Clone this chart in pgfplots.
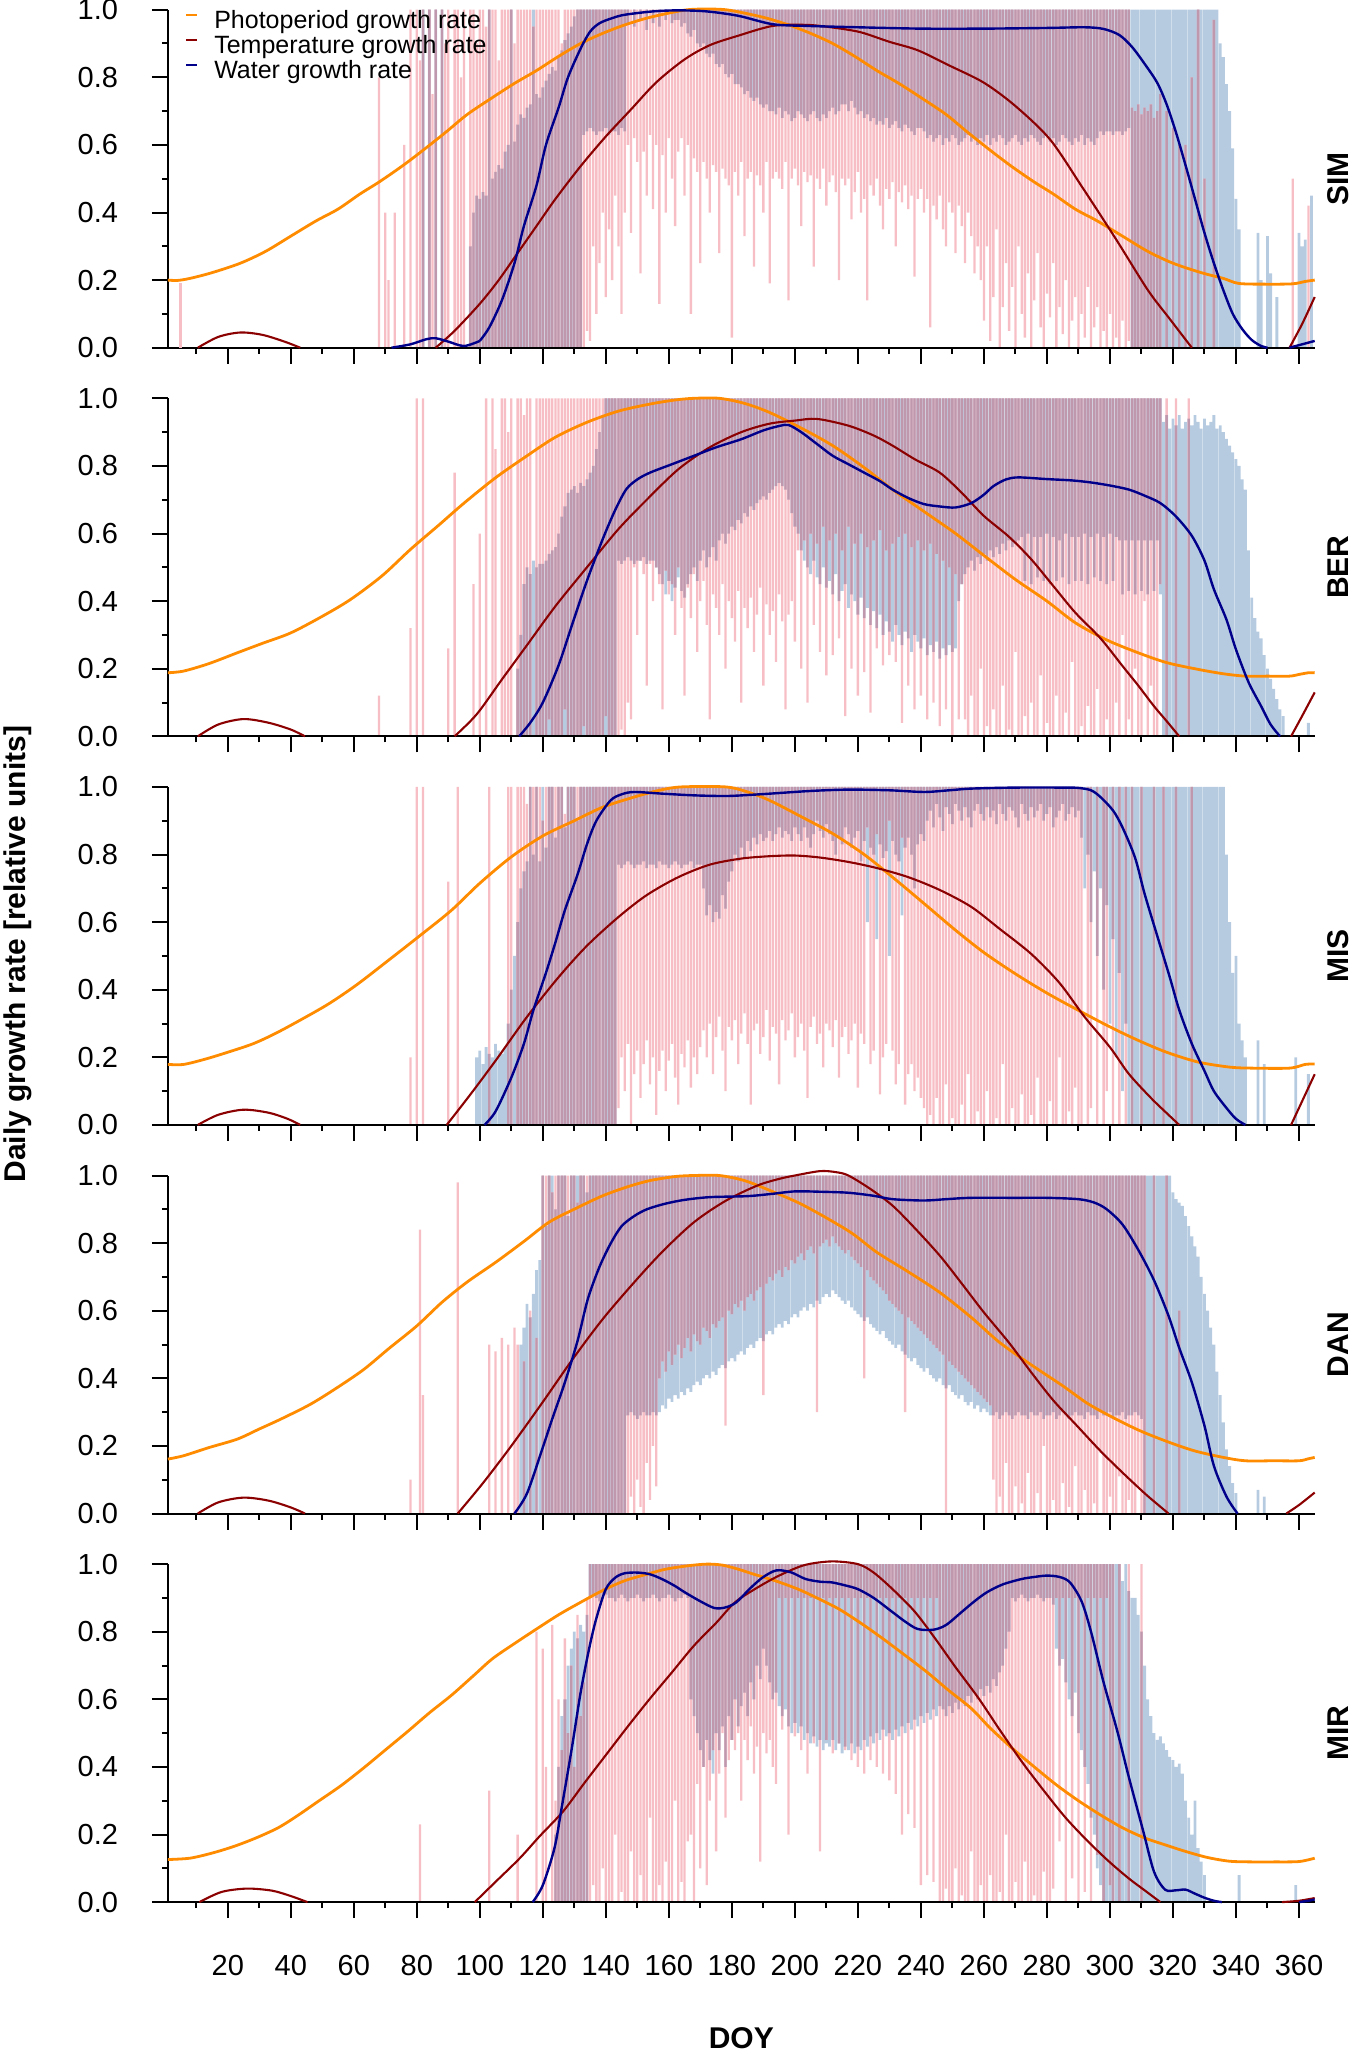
\documentclass[border=0pt]{standalone}
\usepackage{pgfplots}
\pgfplotsset{compat=1.18}
\usepackage{pgfplotstable}
\usepackage{fontspec}
\setmainfont{Liberation Sans}
\definecolor{pk}{RGB}{247,191,197}
\definecolor{lb}{RGB}{183,203,224}
\definecolor{mv}{RGB}{192,152,174}
\definecolor{cor}{RGB}{255,140,0}
\definecolor{cred}{RGB}{139,0,0}
\definecolor{cblu}{RGB}{0,0,139}

% daily series, days 60..365; p = temperature (pink), b = water (blue)
% v>=0 : stroke from v/100 up to 1 ; v<0 : stroke from 0 up to |v|/100 ; 100 : none
\pgfplotstableread[row sep=\\]{p b\\
100 100\\100 100\\100 100\\100 100\\100 100\\100 100\\100 100\\100 100\\-80 100\\100 100\\
-40 100\\-20 100\\100 100\\-40 100\\100 100\\100 100\\-60 100\\100 100\\0 100\\100 100\\
0 100\\-85 100\\0 0\\100 100\\0 0\\-75 100\\0 0\\100 100\\0 0\\-90 100\\
0 100\\100 100\\0 100\\0 100\\-80 100\\0 100\\100 100\\0 -30\\0 -40\\-90 -45\\
0 -44\\0 -46\\-95 -45\\0 0\\0 -50\\0 -52\\-85 -54\\0 -53\\0 -58\\0 -60\\
0 0\\-90 -61\\0 -66\\0 -69\\0 -68\\0 -71\\0 -72\\-95 0\\0 -75\\0 -74\\
0 -77\\0 -79\\0 -81\\0 -83\\0 -82\\0 -86\\-90 -88\\0 -91\\0 -93\\0 -95\\
0 -98\\0 0\\0 0\\0 63\\5 64\\2 65\\30 64\\10 63\\25 64\\40 64\\
15 65\\35 63\\20 64\\45 64\\30 63\\10 65\\40 64\\60 96\\34 100\\62 95\\
55 100\\22 97\\58 100\\45 94\\63 100\\41 96\\60 100\\13 95\\57 100\\40 97\\
62 100\\50 96\\36 97\\58 97\\62 95\\45 96\\60 93\\10 92\\56 94\\52 90\\
25 89\\55 90\\50 87\\40 86\\54 87\\52 84\\28 83\\53 84\\50 81\\48 80\\
3 81\\52 78\\45 78\\55 77\\33 75\\50 76\\52 74\\24 73\\51 74\\48 72\\
40 71\\55 72\\19 70\\50 70\\52 69\\50 71\\47 68\\55 70\\14 69\\50 67\\
53 68\\48 70\\36 69\\52 68\\49 67\\51 69\\24 70\\50 68\\47 67\\53 69\\
42 68\\49 70\\51 71\\46 69\\20 70\\50 72\\48 72\\50 70\\38 73\\46 71\\
52 69\\40 70\\44 68\\14 69\\48 67\\45 68\\50 66\\42 67\\35 66\\47 68\\
44 65\\49 66\\30 67\\46 65\\43 64\\48 66\\41 65\\45 64\\21 63\\44 65\\
47 65\\40 64\\44 62\\6 63\\42 61\\38 62\\45 63\\35 60\\30 62\\43 61\\
40 63\\28 62\\42 60\\36 61\\25 62\\40 63\\33 61\\22 62\\30 60\\20 62\\
8 61\\30 63\\2 60\\15 62\\35 61\\0 63\\12 62\\25 60\\5 61\\18 62\\
0 63\\30 61\\10 60\\3 62\\22 61\\0 63\\14 62\\28 61\\6 60\\0 62\\
16 63\\9 61\\25 62\\0 60\\12 61\\4 63\\20 62\\0 61\\8 60\\15 62\\
0 61\\10 63\\3 60\\18 62\\0 61\\6 60\\12 62\\0 64\\5 63\\0 64\\
10 64\\0 63\\3 64\\0 64\\8 63\\0 64\\2 65\\-71 0\\-70 0\\-72 0\\
-69 0\\-71 0\\-70 0\\-72 0\\-68 0\\-70 0\\-75 0\\100 0\\-70 0\\100 0\\
-65 0\\100 0\\-60 0\\100 0\\-60 0\\100 0\\-80 0\\100 0\\0 0\\100 0\\
-50 0\\100 0\\100 0\\-97 0\\100 0\\100 -90\\100 -86\\100 -78\\100 -70\\100 -59\\
100 -44\\100 -35\\100 100\\100 100\\100 100\\100 100\\100 100\\100 -34\\100 -20\\100 100\\
100 -33\\100 -22\\100 100\\100 -15\\100 100\\100 100\\100 100\\100 100\\-50 100\\100 100\\
100 -34\\100 -30\\100 -32\\-42 100\\100 -45\\100 100\\
}\tSIM

\pgfplotstableread[row sep=\\]{p b\\
100 100\\100 100\\100 100\\100 100\\100 100\\100 100\\100 100\\100 100\\-12 100\\100 100\\
100 100\\100 100\\100 100\\100 100\\100 100\\100 100\\100 100\\100 100\\-32 100\\100 100\\
0 100\\100 100\\0 100\\100 100\\100 100\\100 100\\100 100\\100 100\\100 100\\100 100\\
-26 100\\100 100\\-78 100\\100 100\\100 100\\100 100\\100 100\\100 100\\-45 100\\100 100\\
-60 100\\100 100\\0 100\\100 100\\0 100\\-85 100\\100 100\\0 100\\0 100\\-90 100\\
0 100\\100 100\\0 -20\\0 -30\\-95 -45\\0 -50\\0 -48\\100 -52\\0 -50\\0 -51\\
0 -51\\0 -52\\5 -54\\0 -55\\0 -56\\0 -60\\0 -65\\8 -68\\0 -72\\0 -73\\
0 -74\\0 -72\\0 -75\\3 -74\\0 -76\\0 -78\\0 -80\\0 -85\\0 -90\\0 -95\\
6 0\\0 0\\0 0\\0 0\\0 52\\2 51\\0 52\\10 53\\5 52\\50 51\\
30 52\\52 52\\48 53\\15 51\\51 52\\40 52\\50 50\\45 48\\8 45\\49 42\\
42 46\\45 40\\30 44\\50 47\\38 43\\12 41\\44 45\\35 48\\48 50\\25 46\\
40 52\\46 55\\33 50\\5 53\\42 56\\38 52\\30 58\\45 60\\20 57\\40 60\\
35 62\\28 61\\43 64\\10 63\\38 66\\32 65\\41 68\\25 67\\36 69\\44 70\\
15 71\\39 70\\30 72\\37 73\\22 74\\42 75\\34 74\\8 73\\36 70\\40 66\\
28 62\\55 60\\20 55\\58 52\\10 50\\60 48\\33 52\\57 47\\25 45\\62 50\\
18 44\\58 46\\24 42\\60 48\\29 40\\55 43\\6 45\\62 38\\20 42\\57 40\\
12 36\\60 41\\19 35\\56 38\\7 33\\58 37\\26 32\\61 36\\21 30\\55 34\\
24 31\\57 28\\22 33\\59 30\\4 27\\60 31\\15 29\\56 25\\8 30\\58 28\\
12 26\\55 29\\5 24\\57 27\\10 25\\54 28\\3 23\\52 26\\8 24\\50 27\\
0 25\\48 26\\5 40\\45 45\\5 48\\0 50\\12 52\\0 49\\0 53\\20 51\\
0 54\\3 52\\0 55\\8 53\\0 56\\0 54\\15 57\\0 55\\2 58\\0 56\\
25 57\\0 58\\0 59\\6 46\\0 60\\10 45\\0 59\\0 47\\18 59\\0 46\\
4 60\\0 45\\0 59\\12 46\\0 58\\0 47\\7 60\\0 45\\22 59\\0 46\\
0 59\\3 46\\0 60\\9 45\\0 59\\0 47\\14 60\\0 46\\0 59\\5 45\\
0 60\\0 46\\10 59\\0 58\\30 42\\0 58\\5 43\\0 58\\20 42\\0 58\\
0 43\\40 58\\0 42\\15 58\\0 43\\0 58\\45 42\\100 -93\\0 -95\\100 -91\\
100 -94\\0 -92\\100 -95\\100 -91\\100 -93\\0 -94\\100 -92\\100 -95\\100 -93\\100 -91\\
100 -94\\100 -92\\100 -93\\100 -95\\100 -91\\100 -92\\100 -90\\100 -88\\100 -86\\100 -84\\
100 -82\\100 -80\\100 -76\\100 -73\\100 -55\\100 -41\\100 -35\\100 -31\\100 -29\\100 -24\\
100 -20\\100 -17\\100 -14\\100 -11\\100 -8\\100 -6\\100 100\\100 100\\100 100\\100 100\\
100 100\\100 100\\100 100\\100 -4\\100 100\\100 100\\
}\tBER

\pgfplotstableread[row sep=\\]{p b\\
100 100\\100 100\\100 100\\100 100\\100 100\\100 100\\100 100\\100 100\\100 100\\100 100\\
100 100\\100 100\\100 100\\100 100\\100 100\\100 100\\100 100\\100 100\\-20 100\\100 100\\
0 100\\100 100\\0 100\\100 100\\100 100\\100 100\\100 100\\100 100\\100 100\\100 100\\
-72 100\\100 100\\100 100\\0 100\\100 100\\100 100\\100 100\\100 100\\100 100\\100 -20\\
100 -22\\100 -18\\100 -23\\0 -21\\100 -20\\100 -24\\100 -22\\100 -21\\100 -23\\0 -30\\
0 -40\\100 -50\\0 -60\\0 -70\\0 -75\\-95 -78\\0 0\\0 -80\\0 0\\0 -78\\
-90 0\\0 -82\\0 0\\0 0\\0 -85\\0 0\\0 0\\-92 -88\\0 0\\0 0\\
0 0\\0 -90\\0 0\\0 0\\0 0\\0 0\\0 0\\0 0\\0 0\\0 0\\
0 0\\0 0\\0 0\\0 0\\5 77\\20 76\\10 77\\24 78\\0 77\\15 76\\
22 77\\8 77\\18 78\\25 76\\12 77\\20 77\\3 76\\16 78\\22 77\\10 77\\
19 76\\24 77\\14 78\\6 77\\21 76\\17 77\\25 77\\11 78\\20 76\\15 77\\
23 77\\28 70\\20 62\\30 65\\15 60\\26 63\\32 61\\22 68\\10 64\\29 72\\
25 75\\31 80\\18 78\\27 82\\33 79\\24 84\\6 81\\28 85\\30 83\\21 86\\
26 84\\34 85\\19 87\\29 84\\27 86\\12 88\\31 85\\25 87\\28 86\\33 84\\
20 88\\26 86\\30 84\\22 88\\8 85\\29 82\\32 86\\24 90\\27 87\\17 85\\
30 89\\28 86\\23 84\\31 80\\14 85\\26 83\\29 88\\21 86\\25 82\\30 85\\
11 87\\27 78\\24 84\\88 60\\18 82\\22 80\\86 55\\9 83\\20 79\\24 81\\
90 50\\22 84\\12 80\\18 78\\85 62\\6 82\\15 85\\18 80\\10 70\\14 83\\
8 86\\5 84\\0 90\\3 93\\0 88\\8 95\\0 91\\0 87\\12 94\\0 92\\
2 89\\0 95\\0 93\\6 90\\0 94\\15 91\\0 88\\0 93\\4 95\\0 92\\
0 90\\10 94\\0 91\\0 93\\2 89\\0 95\\18 92\\0 90\\0 94\\5 93\\
0 91\\0 88\\9 95\\0 92\\0 90\\3 94\\0 91\\14 93\\0 95\\0 90\\
0 92\\7 94\\0 88\\0 91\\20 93\\0 95\\0 90\\4 92\\0 94\\11 91\\
0 93\\0 85\\100 70\\0 80\\5 60\\100 75\\0 50\\100 70\\0 40\\10 65\\
100 30\\0 55\\100 20\\0 45\\100 10\\0 30\\100 0\\0 0\\100 0\\100 0\\
0 0\\100 0\\100 0\\100 0\\0 0\\100 0\\100 0\\0 0\\100 0\\100 0\\
100 0\\0 0\\100 0\\100 0\\100 0\\100 0\\0 0\\100 0\\100 0\\100 0\\
100 0\\100 0\\100 0\\100 0\\100 0\\100 0\\100 0\\100 -80\\100 -60\\100 -45\\
100 -50\\100 -30\\100 -25\\100 -20\\100 100\\100 100\\100 100\\100 -25\\100 100\\100 -18\\
100 100\\100 100\\100 100\\100 100\\100 100\\100 100\\100 100\\100 100\\100 100\\100 -20\\
100 100\\100 100\\100 100\\100 -15\\100 100\\100 100\\
}\tMIS

\pgfplotstableread[row sep=\\]{p b\\
100 100\\100 100\\100 100\\100 100\\100 100\\100 100\\100 100\\100 100\\100 100\\100 100\\
100 100\\100 100\\100 100\\100 100\\100 100\\100 100\\100 100\\100 100\\-10 100\\100 100\\
100 100\\-84 100\\-35 100\\100 100\\100 100\\100 100\\100 100\\100 100\\100 100\\100 100\\
100 100\\100 100\\100 100\\-98 100\\100 100\\100 100\\100 100\\100 100\\100 100\\100 100\\
100 100\\100 100\\100 100\\-50 100\\100 100\\-48 100\\100 100\\-52 100\\100 100\\-50 100\\
100 100\\-55 100\\-50 100\\100 -50\\-45 -55\\100 -62\\-60 -58\\100 -65\\-52 -72\\100 -75\\
0 0\\0 -85\\0 0\\-95 0\\0 -90\\0 0\\0 0\\0 0\\0 -88\\0 0\\
0 0\\-92 0\\0 0\\0 0\\0 -95\\0 0\\0 0\\0 0\\0 0\\0 0\\
0 0\\0 0\\0 0\\0 0\\0 0\\0 0\\0 0\\0 29\\5 30\\0 29\\
10 28\\2 29\\0 30\\15 29\\4 29\\20 30\\8 29\\40 30\\45 32\\42 31\\
48 34\\44 33\\47 35\\50 34\\46 36\\49 35\\52 37\\48 36\\53 38\\51 39\\
50 38\\55 40\\54 41\\52 40\\56 42\\55 41\\57 43\\58 44\\26 43\\60 45\\
59 46\\62 45\\61 47\\63 48\\60 47\\64 49\\65 50\\63 49\\66 51\\67 52\\
35 51\\68 53\\70 54\\69 53\\71 55\\72 56\\70 55\\73 57\\72 56\\75 58\\
74 59\\76 58\\77 60\\75 61\\78 60\\79 62\\77 61\\30 63\\79 62\\80 64\\
81 65\\79 64\\82 66\\80 65\\79 64\\78 63\\77 62\\78 63\\76 61\\75 60\\
74 59\\73 58\\40 57\\72 58\\70 56\\69 55\\68 54\\67 53\\66 54\\65 52\\
63 51\\62 50\\61 49\\60 50\\59 48\\30 47\\58 46\\57 45\\56 46\\55 44\\
54 43\\53 42\\52 43\\51 41\\50 40\\49 39\\48 40\\47 38\\0 37\\45 38\\
44 36\\43 35\\42 34\\41 35\\40 33\\39 32\\38 33\\37 31\\36 32\\35 30\\
34 31\\33 30\\32 29\\10 29\\0 30\\5 28\\0 29\\15 30\\0 29\\0 28\\
8 29\\0 30\\3 29\\0 29\\12 28\\0 30\\0 29\\6 29\\0 30\\20 28\\
0 29\\0 29\\4 30\\0 28\\0 29\\9 30\\0 29\\2 28\\0 29\\14 30\\
0 29\\0 29\\7 28\\0 30\\0 29\\3 29\\0 28\\18 30\\0 29\\0 29\\
5 30\\0 28\\0 29\\11 29\\0 30\\0 28\\4 29\\0 29\\0 30\\8 29\\
0 28\\0 0\\100 0\\100 0\\0 0\\100 0\\100 0\\100 0\\0 0\\100 0\\
100 -95\\100 -93\\-60 -92\\100 -91\\100 -88\\100 -85\\100 -82\\100 -79\\100 -76\\100 -70\\
100 -65\\100 -60\\100 -55\\100 -50\\100 -42\\100 -35\\100 -27\\100 -19\\100 -14\\100 -9\\
100 -6\\100 100\\100 100\\100 100\\100 100\\100 100\\100 100\\100 -7\\100 100\\100 -5\\
100 100\\100 100\\100 100\\100 100\\100 100\\100 100\\100 100\\100 100\\100 100\\100 100\\
100 100\\100 100\\100 100\\100 100\\100 100\\100 100\\
}\tDAN

\pgfplotstableread[row sep=\\]{p b\\
100 100\\100 100\\100 100\\100 100\\100 100\\100 100\\100 100\\100 100\\100 100\\100 100\\
100 100\\100 100\\100 100\\100 100\\100 100\\100 100\\100 100\\100 100\\100 100\\100 100\\
100 100\\-23 100\\100 100\\100 100\\100 100\\100 100\\100 100\\100 100\\100 100\\100 100\\
100 100\\100 100\\100 100\\100 100\\100 100\\100 100\\100 100\\100 100\\100 100\\100 100\\
100 100\\100 100\\100 100\\-33 100\\100 100\\100 100\\100 100\\100 100\\100 100\\100 100\\
100 100\\100 100\\-20 100\\100 100\\100 100\\100 100\\100 100\\100 100\\-80 100\\100 100\\
-75 100\\-40 100\\100 100\\-82 100\\-30 -20\\-60 -40\\-45 -55\\-78 -60\\-50 -70\\-70 -75\\
-40 -80\\-85 -78\\-55 -82\\-65 -80\\-90 -85\\0 90\\5 91\\0 90\\0 89\\10 90\\
0 91\\0 90\\0 90\\20 89\\0 90\\3 91\\0 90\\0 89\\15 90\\0 90\\
0 91\\8 90\\0 89\\0 90\\25 90\\0 91\\0 90\\5 89\\0 90\\12 90\\
0 91\\0 90\\30 89\\0 90\\6 90\\0 91\\18 90\\20 60\\0 55\\35 50\\
10 45\\40 40\\5 48\\30 42\\45 38\\15 50\\38 45\\50 52\\25 40\\42 55\\
48 48\\45 60\\50 52\\30 58\\48 62\\42 55\\52 65\\38 60\\46 70\\12 66\\
50 75\\44 70\\48 65\\40 60\\35 62\\90 58\\51 55\\90 57\\20 52\\90 50\\
49 53\\90 50\\45 52\\90 48\\38 50\\90 47\\47 49\\90 46\\15 48\\90 45\\
48 47\\90 46\\44 48\\90 45\\47 47\\90 44\\45 46\\90 45\\42 47\\90 44\\
40 46\\90 45\\38 48\\90 46\\42 49\\90 47\\40 50\\90 48\\38 51\\90 49\\
36 50\\90 48\\32 51\\90 49\\20 52\\90 50\\26 53\\90 51\\22 54\\90 52\\
5 55\\90 53\\8 56\\90 54\\6 57\\90 55\\0 58\\0 57\\4 55\\0 58\\
0 56\\10 59\\0 57\\2 60\\0 58\\0 61\\15 59\\0 62\\0 60\\5 63\\
0 61\\0 64\\8 62\\0 66\\0 64\\3 68\\0 70\\20 75\\0 80\\0 90\\
6 89\\0 90\\0 91\\12 90\\0 89\\0 90\\2 90\\0 91\\0 90\\9 89\\
0 90\\0 90\\4 88\\90 75\\18 70\\90 72\\0 65\\90 60\\7 55\\90 62\\
0 50\\90 45\\3 40\\90 35\\0 25\\90 20\\14 10\\90 5\\0 0\\90 0\\
5 0\\0 0\\100 0\\0 0\\100 -95\\100 0\\0 -92\\100 -90\\100 -90\\100 -85\\
0 -80\\100 -70\\100 -60\\100 -55\\100 -50\\100 -48\\100 -49\\100 -47\\100 -45\\100 -43\\
100 -42\\100 -40\\100 -41\\100 -38\\100 -30\\100 -25\\100 -20\\100 -30\\100 -16\\100 -12\\
100 -8\\100 100\\100 100\\100 100\\100 100\\100 100\\100 100\\100 100\\100 100\\100 100\\
100 100\\100 -8\\100 100\\100 100\\100 100\\100 100\\100 100\\100 100\\100 100\\100 100\\
100 100\\100 100\\100 100\\100 100\\100 100\\100 100\\100 100\\100 100\\100 100\\100 -5\\
100 100\\100 100\\100 100\\100 100\\100 100\\100 100\\
}\tMIR

\pgfplotsset{
  geom/.style={scale only axis, width=573.4pt, height=169pt,
    xmin=1, xmax=365, ymin=0, ymax=1, clip=false, anchor=south west,
    declare function={plo(\v)=max(\v,0)/100; phi(\v)=1-(\v<0)*(1-abs(\v)/100);}},
  sax/.style={geom, hide axis, ybar stacked},
  panel/.style={geom,
    axis x line*=bottom, axis y line*=left,
    axis line style={line width=1pt, black},
    tick align=outside,
    xtick={20,40,...,360}, minor xtick={10,30,...,350},
    ytick={0,0.2,0.4,0.6,0.8,1}, minor ytick={0.1,0.3,0.5,0.7,0.9},
    yticklabels={0.0,0.2,0.4,0.6,0.8,1.0},
    xticklabels={},
    major tick length=8pt, minor tick length=3pt,
    tick style={line width=1pt, black},
    yticklabel style={font=\fontsize{14.5}{17}\selectfont},
    xticklabel style={font=\fontsize{14.5}{17}\selectfont},
    yticklabel shift=13.4pt, xticklabel shift=15pt,
  },
  ph/.style={draw=cor, line width=1.4pt, smooth, mark=none},
  te/.style={draw=cred, line width=1.05pt, smooth, mark=none},
  wa/.style={draw=cblu, line width=1.2pt, smooth, mark=none},
}

% three stacked-bar layers: water (blue, wide), temperature (pink), and their overlap
\newcommand{\strokes}[2]{%
  \begin{axis}[sax, bar width=1.42pt, at={(0pt,#2)}]
  \addplot[draw=none, fill=none] table[x expr=\coordindex+60, y expr={plo(\thisrow{b})}] {#1};
  \addplot[draw=none, fill=lb] table[x expr=\coordindex+60, y expr={phi(\thisrow{b})-plo(\thisrow{b})}] {#1};
  \end{axis}
  \begin{axis}[sax, bar width=1.15pt, at={(0pt,#2)}]
  \addplot[draw=none, fill=none] table[x expr=\coordindex+60, y expr={plo(\thisrow{p})}] {#1};
  \addplot[draw=none, fill=pk] table[x expr=\coordindex+60, y expr={phi(\thisrow{p})-plo(\thisrow{p})}] {#1};
  \end{axis}
  \begin{axis}[sax, bar width=1.15pt, at={(0pt,#2)}]
  \addplot[draw=none, fill=none] table[x expr=\coordindex+60, y expr={max(plo(\thisrow{p}),plo(\thisrow{b}))}] {#1};
  \addplot[draw=none, fill=mv] table[x expr=\coordindex+60,
     y expr={max(0,min(phi(\thisrow{p}),phi(\thisrow{b}))-max(plo(\thisrow{p}),plo(\thisrow{b})))}] {#1};
  \end{axis}
}

\begin{document}
\begin{tikzpicture}
\useasboundingbox (-83.95pt,-851.65pt) rectangle (595.05pt,173.85pt);

% ---------------- SIM ----------------
\strokes{\tSIM}{0pt}
\begin{axis}[panel, at={(0pt,0pt)},
  legend style={at={(axis cs:1,1)}, anchor=north west, xshift=8.5pt, yshift=0pt, draw=none, fill=none,
    inner sep=0pt, font=\fontsize{12.5}{12.5}\selectfont, row sep=1pt, column sep=8pt,
    nodes={inner sep=0pt, text height=9pt, text depth=2.5pt}},
  legend cell align=left,
  legend image code/.code={\draw[#1, line width=1pt] (0pt,3.5pt) -- (5.5pt,3.5pt);}]
\addplot[pk, line width=1.1pt, forget plot] coordinates {(5,0) (5,0.19)};
\addplot[ph] coordinates {(1,.20)(4,.199)(8,.205)(15,.222)(24,.25)(32,.285)(40,.33)(48,.375)(55,.41)(62,.455)(68,.49)(75,.535)(81,.577)(89,.636)(96,.69)(104,.74)(111,.782)(118,.82)(125,.862)(132,.90)(139,.93)(146,.955)(153,.975)(160,.99)(166,1.0)(172,1.002)(178,1.0)(184,.99)(191,.975)(198,.955)(205,.93)(212,.90)(219,.862)(226,.82)(233,.782)(240,.74)(248,.69)(255,.636)(263,.577)(269,.535)(276,.49)(282,.455)(289,.41)(296,.375)(304,.33)(312,.285)(320,.25)(329,.222)(336,.205)(341,.19)(350,.188)(358,.189)(362,.196)(365,.2)};
\addlegendentry{Photoperiod growth rate}
\addplot[te] coordinates {(86,0)(92,.05)(100,.13)(106,.2)(112,.28)(118,.36)(124,.44)(132,.537)(140,.625)(148,.705)(156,.785)(165,.853)(173,.895)(182,.923)(193,.952)(204,.955)(213,.946)(221,.933)(230,.905)(239,.88)(249,.835)(260,.784)(270,.715)(281,.616)(291,.478)(302,.32)(312,.171)(319,.085)(326,0)};
\addlegendentry{Temperature growth rate}
\addplot[wa] coordinates {(100,.02)(103,.06)(107,.14)(111,.25)(114,.36)(118,.48)(121,.6)(125,.71)(128,.8)(132,.885)(135,.935)(138,.96)(142,.975)(146,.985)(155,.995)(163,.998)(172,.995)(182,.982)(193,.957)(204,.952)(220,.948)(240,.944)(260,.944)(280,.946)(292,.948)(298,.943)(303,.925)(307,.89)(311,.84)(315,.784)(318,.72)(321,.636)(324,.54)(327,.44)(330,.34)(333,.25)(336,.17)(339,.10)(342,.055)(345,.023)(348,.005)(350,0)};
\addlegendentry{Water growth rate}
\addplot[te, forget plot] coordinates {(10.5,0)(17,.032)(24,.045)(31,.038)(38,.018)(43,0)};
\addplot[te, forget plot] coordinates {(357,0)(361,.07)(365,.15)};
\addplot[wa, forget plot] coordinates {(72,0)(78,.01)(83,.025)(86,.028)(90,.018)(95,.005)(100,.02)};
\addplot[wa, forget plot] coordinates {(357,0)(361,.01)(365,.02)};
\end{axis}

% ---------------- BER ----------------
\strokes{\tBER}{-194.3pt}
\begin{axis}[panel, at={(0pt,-194.3pt)}]
\addplot[ph] coordinates {(1,.188)(6,.193)(14,.215)(23,.247)(31,.275)(40,.306)(50,.355)(59,.405)(69,.475)(78,.553)(87,.625)(95,.69)(105,.765)(115,.83)(124,.885)(134,.929)(144,.962)(154,.983)(162,.995)(168,1.0)(176,1.0)(184,.985)(192,.958)(202,.912)(212,.86)(222,.795)(231,.73)(241,.665)(251,.60)(260,.535)(270,.464)(280,.40)(289,.336)(299,.285)(309,.247)(318,.218)(328,.198)(336,.185)(343,.178)(350,.178)(357,.178)(360,.183)(363,.188)(365,.188)};
\addplot[te] coordinates {(92,0)(99,.065)(107,.168)(115,.27)(124,.385)(134,.50)(144,.613)(153,.70)(163,.79)(173,.855)(183,.90)(192,.925)(200,.934)(207,.939)(217,.919)(225,.89)(231,.86)(238,.82)(246,.78)(253,.72)(260,.652)(268,.59)(275,.524)(282,.445)(289,.366)(297,.29)(304,.208)(309,.15)(314,.089)(318,.045)(322,0)};
\addplot[te] coordinates {(10.5,0)(17,.035)(25,.051)(33,.04)(40,.02)(44.5,0)};
\addplot[te] coordinates {(357.5,0)(361,.06)(365,.13)};
\addplot[wa] coordinates {(112.5,0)(116,.04)(120,.10)(125,.21)(129.5,.336)(134,.46)(139,.583)(143,.67)(146.5,.731)(150,.76)(154,.78)(161,.805)(168,.83)(175,.855)(183,.879)(190,.905)(195,.918)(198,.921)(202,.90)(207,.865)(212,.83)(217,.805)(222,.78)(227,.755)(231,.73)(236,.705)(241,.687)(246,.68)(251,.677)(256,.69)(260,.715)(263,.74)(267,.76)(271,.766)(280,.761)(288,.757)(294,.751)(300,.742)(306,.73)(311,.712)(316,.69)(321,.65)(326,.593)(330,.52)(333,.435)(337,.345)(340,.257)(344,.16)(348,.089)(351,.035)(354,0)};
\end{axis}

% ---------------- MIS ----------------
\strokes{\tMIS}{-388.6pt}
\begin{axis}[panel, at={(0pt,-388.6pt)}]
\addplot[ph] coordinates {(1,.179)(6,.179)(13,.195)(20,.215)(28,.24)(35,.27)(43,.31)(52,.358)(61,.415)(71,.487)(81,.56)(91,.635)(100,.715)(110,.793)(120,.855)(130,.90)(139,.94)(149,.97)(157,.99)(164,1.0)(178,1.0)(185,.985)(192,.96)(202,.912)(212,.862)(222,.80)(231,.733)(241,.655)(251,.576)(260,.51)(270,.447)(280,.39)(290,.339)(300,.29)(309,.25)(318,.215)(328,.186)(338,.171)(345,.168)(357,.168)(362,.179)(365,.18)};
\addplot[te] coordinates {(89.5,0)(97,.09)(105,.19)(115,.32)(125,.437)(134,.53)(144,.615)(153,.68)(163,.733)(173,.77)(183,.788)(192,.795)(200,.797)(208,.791)(217,.778)(226,.76)(236,.733)(246,.695)(256,.645)(265,.58)(275,.506)(284,.42)(292,.319)(300,.23)(306,.151)(313,.08)(318,.035)(322,0)};
\addplot[te] coordinates {(10.5,0)(17,.03)(25,.045)(33,.036)(39,.018)(43,0)};
\addplot[te] coordinates {(357.5,0)(361,.07)(365,.15)};
\addplot[wa] coordinates {(101.5,0)(105,.04)(110,.14)(114,.24)(117,.339)(121,.45)(124,.54)(127,.635)(131,.74)(134,.83)(137,.9)(141.5,.96)(145,.978)(149,.985)(158,.98)(168,.975)(178,.973)(185,.976)(192,.98)(205,.988)(217,.992)(230,.99)(241,.985)(249,.99)(256,.995)(270,.998)(285,.998)(290,.997)(294,.99)(297,.97)(301,.93)(304,.88)(308,.79)(311,.684)(315,.56)(319,.437)(322,.34)(326,.24)(330,.16)(333,.10)(337,.05)(340,.018)(343,0)};
\end{axis}

% ---------------- DAN ----------------
\strokes{\tDAN}{-582.9pt}
\begin{axis}[panel, at={(0pt,-582.9pt)}]
\addplot[ph] coordinates {(1,.161)(6,.171)(14,.195)(23,.22)(30,.25)(37,.28)(46,.322)(54,.368)(63,.425)(71,.487)(80,.555)(88,.625)(96,.685)(105,.743)(114,.805)(122,.862)(131,.905)(139,.94)(147,.967)(154,.985)(162,.997)(168,1.0)(176,1.0)(184,.985)(192,.956)(201,.92)(209,.88)(218,.83)(226,.773)(236,.715)(246,.654)(256,.58)(265,.506)(275,.44)(285,.378)(293,.325)(302,.279)(310,.243)(319,.21)(327,.185)(336,.166)(343,.156)(352,.156)(360,.156)(363,.162)(365,.166)};
\addplot[te] coordinates {(93,0)(101,.09)(110,.20)(120,.33)(129.5,.457)(139,.575)(149,.684)(158,.775)(168,.862)(178,.925)(188,.97)(195,.99)(200,1.0)(208,1.013)(213,1.01)(217,1.0)(224,.96)(231,.911)(238,.845)(246,.763)(253,.68)(260,.595)(268,.505)(275,.418)(282,.335)(289.5,.26)(297,.185)(304,.121)(311,.06)(315,.028)(318.6,0)};
\addplot[te] coordinates {(10.5,0)(17,.033)(25,.047)(33,.038)(40,.018)(44.5,0)};
\addplot[te] coordinates {(356,0)(360,.025)(365,.062)};
\addplot[wa] coordinates {(111,0)(115,.06)(119.8,.19)(123,.28)(127,.388)(131,.51)(134.3,.635)(138,.73)(141.6,.80)(145,.85)(149,.88)(153,.9)(158.6,.916)(165,.928)(173,.936)(185,.939)(193,.946)(200,.953)(208,.952)(217,.949)(225,.94)(231,.93)(241,.926)(248,.93)(256,.934)(270,.934)(280,.934)(290,.93)(295,.92)(299,.90)(304,.855)(309,.78)(314,.69)(318.6,.585)(322,.49)(326,.388)(330,.26)(333,.141)(337,.05)(340.5,0)};
\end{axis}

% ---------------- MIR ----------------
\strokes{\tMIR}{-777.2pt}
\begin{axis}[panel, at={(0pt,-777.2pt)},
  xticklabels={20,40,60,80,100,120,140,160,180,200,220,240,260,280,300,320,340,360}]
\addplot[ph] coordinates {(1,.126)(8,.13)(15,.145)(22,.165)(29,.19)(36,.22)(42,.255)(49,.30)(56,.345)(63,.396)(70,.45)(77,.504)(84,.56)(91,.612)(98,.67)(104,.72)(111,.765)(118,.808)(125,.85)(132,.887)(139,.922)(146,.951)(153,.97)(159,.985)(166,.995)(172,1.0)(177,.997)(182,.985)(187,.97)(194,.95)(201,.926)(207,.9)(214,.867)(221,.825)(228,.779)(235,.73)(242,.68)(249,.625)(256,.573)(262,.515)(269,.455)(276,.40)(283,.347)(290,.30)(297,.258)(304,.22)(311,.19)(318,.168)(324,.15)(331,.132)(338,.121)(345,.119)(352,.119)(360,.12)(365,.13)};
\addplot[te] coordinates {(98.4,0)(105,.06)(112.7,.13)(119,.195)(126.4,.268)(133,.35)(140,.435)(147,.52)(154,.602)(161,.68)(168,.759)(175,.826)(181,.887)(188,.93)(195,.966)(203,.997)(211.7,1.008)(220,1.0)(225,.975)(231,.926)(238,.86)(244.6,.779)(251,.695)(258.4,.602)(265,.51)(272,.416)(279,.33)(286,.249)(293,.18)(299.6,.121)(306,.07)(311,.035)(316,0)};
\addplot[te] coordinates {(11,0)(18,.03)(26,.04)(34,.034)(40,.018)(45.3,0)};
\addplot[te] coordinates {(354.6,0)(360,.004)(365,.012)};
\addplot[wa] coordinates {(116.8,0)(120,.05)(123.7,.16)(126,.28)(129.2,.455)(132,.62)(134.7,.75)(137,.84)(140,.926)(143,.96)(146,.973)(150,.975)(154,.97)(158,.955)(162,.935)(165,.917)(170,.89)(174.5,.87)(178,.872)(181.4,.887)(186,.93)(189.7,.96)(193,.978)(195.2,.982)(199,.975)(203.4,.956)(208,.948)(211.7,.946)(216,.937)(220,.926)(225,.9)(231,.858)(235,.83)(239,.808)(244,.806)(248,.82)(252.9,.858)(257,.89)(261,.917)(266,.94)(272,.956)(276,.962)(280,.966)(284,.962)(287.3,.946)(291,.89)(294,.80)(298,.65)(302.4,.504)(306,.37)(310.6,.209)(314,.09)(317.5,.037)(321,.035)(324,.037)(327,.025)(330,.013)(333,.004)(335.5,0)};
\addplot[wa] coordinates {(360,0)(363,.004)(365,.008)};
\end{axis}

% ---------------- labels ----------------
\begin{scope}[every node/.style={font=\bfseries\fontsize{15}{15}\selectfont, inner sep=0pt}]
\node[rotate=90] at (585.35pt,84.5pt) {SIM};
\node[rotate=90] at (585.35pt,-109.8pt) {BER};
\node[rotate=90] at (585.35pt,-304.1pt) {MIS};
\node[rotate=90] at (585.35pt,-498.4pt) {DAN};
\node[rotate=90] at (585.35pt,-692.7pt) {MIR};
\node[rotate=90] at (-74.8pt,-303.2pt) {Daily growth rate [relative units]};
\node at (286.7pt,-845.3pt) {DOY};
\end{scope}
\end{tikzpicture}
\end{document}
